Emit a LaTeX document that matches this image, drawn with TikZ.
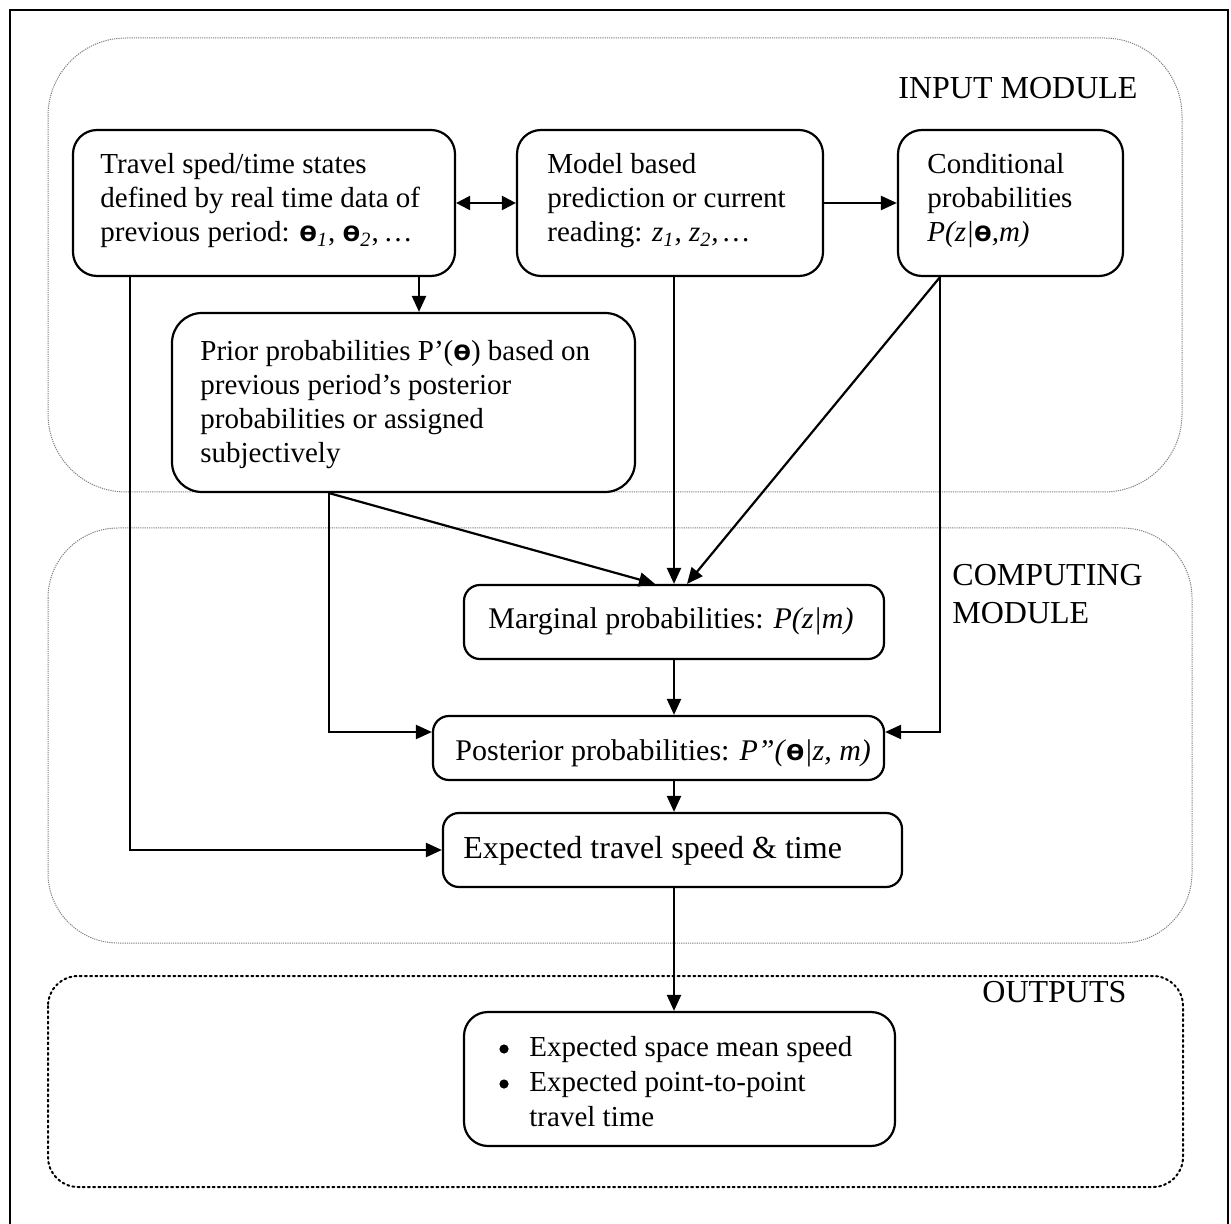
\documentclass[tikz,border=0pt]{standalone}
\usepackage{fontspec}
\setmainfont{Liberation Serif}
\newfontfamily\symfont{Liberation Sans}
\usetikzlibrary{arrows.meta,calc}
\newcommand{\thet}{{\symfont\bfseries ө}}

\begin{document}
\begin{tikzpicture}[x=0.5pt,y=-0.5pt,
  box/.style={draw, line width=1.1pt, rounded corners=12pt, inner sep=0pt},
  txt/.style={anchor=base west, align=flush left, inner sep=0pt,
    font=\fontsize{14.5pt}{17pt}\selectfont},
  mid/.style={anchor=base west, inner sep=0pt, font=\fontsize{15pt}{17pt}\selectfont},
  lbl/.style={anchor=base west, align=flush left, inner sep=0pt,
    font=\fontsize{16pt}{18.5pt}\selectfont},
  bullet/.style={fill=black, circle, inner sep=0pt, minimum size=4.6pt},
  arr/.style={line width=1.1pt, -{Triangle[length=8pt,width=7pt]}},
  darr/.style={line width=1.1pt, {Triangle[length=7pt,width=7pt]}-{Triangle[length=7pt,width=7pt]}},
  module/.style={draw=black!50, line width=0.5pt, dash pattern=on 0.6pt off 0.5pt},
  outmodule/.style={draw=black, line width=1pt, dash pattern=on 1pt off 1.6pt, line cap=round}]

\useasboundingbox (0,0) rectangle (1231,1224);

% outer frame (its lower edge lies just below the page)
\draw[line width=1pt] (10,1240) -- (10,10) -- (1228,10) -- (1228,1240);

% modules
\draw[module, rounded corners=39pt] (48,38) rectangle (1182,492);
\draw[module, rounded corners=35pt] (48,528) rectangle (1192,943);
\draw[outmodule, rounded corners=15pt] (48,976) rectangle (1183,1187);

\node[lbl] (inlbl) at (898,99) {INPUT MODULE};
\node[lbl, text width=100pt] (complbl) at (952,586) {COMPUTING\\MODULE};
\node[lbl] (outlbl) at (982,1002) {OUTPUTS};

% boxes
\node[box, minimum width=191pt, minimum height=73pt] (A) at (264,203) {};
\node[box, minimum width=153pt, minimum height=73pt] (B) at (670,203) {};
\node[box, minimum width=112.5pt, minimum height=73pt] (C) at (1010.5,203) {};
\node[box, rounded corners=15pt, minimum width=231.5pt, minimum height=89.5pt] (D) at (403.5,402.5) {};
\node[box, rounded corners=8pt, minimum width=210pt, minimum height=37pt] (E) at (674,622) {};
\node[box, rounded corners=8pt, minimum width=225.5pt, minimum height=32pt] (F) at (658.5,748) {};
\node[box, rounded corners=8pt, minimum width=229.5pt, minimum height=37pt] (G) at (672.5,850) {};
\node[box, minimum width=215.5pt, minimum height=67pt] (H) at (679.5,1079) {};

% box texts
\node[txt, text width=175pt] (At) at (100,174) {Travel sped/time states\\
  defined by real time data of\\
  previous period: \thet\textit{\textsubscript{1}}, \thet\textit{\textsubscript{2}},\,…};
\node[txt, text width=140pt] (Bt) at (547,174) {Model based\\
  prediction or current\\
  reading: \textit{z\textsubscript{1}, z\textsubscript{2},\,…}};
\node[txt, text width=100pt] (Ct) at (927,174) {Conditional\\
  probabilities\\
  \textit{P(z|}\thet\textit{,m)}};
\node[txt, text width=225pt] (Dt) at (200,361) {Prior probabilities P’(\thet) based on\\
  previous period’s posterior\\
  probabilities or assigned\\
  subjectively};
\node[mid] (Et) at (488,628) {Marginal probabilities: \textit{P(z|m)}};
\node[mid] (Ft) at (455,760) {Posterior probabilities: \textit{P”(}\thet\textit{|z, m)}};
\node[lbl] (Gt) at (463,858) {Expected travel speed \& time};

% output list: bullets and text
\node[bullet] (b1) at (504,1049) {};
\node[bullet] (b2) at (504,1084) {};
\node[txt, text width=185pt, font=\fontsize{14.5pt}{17.5pt}\selectfont] (Ht) at (529,1056)
  {Expected space mean speed\\
  Expected point-to-point\\
  travel time};

% connector guide positions
\coordinate (xAL) at (130,0);
\coordinate (xAD) at (419,0);
\coordinate (xDL) at (329,0);
\coordinate (xDE) at (655,0);
\coordinate (xCE) at (687,0);
\coordinate (xC) at (940,0);
\coordinate (yF) at (0,732);

% connectors
\draw[darr] (A.east) -- (B.west);
\draw[arr] (B.east) -- (C.west);
\draw[arr] (A.south -| xAD) -- (D.north -| xAD);
\draw[arr] (A.south -| xAL) |- (G.west);
\draw[arr] (B.south -| E.north) -- (E.north);
\draw[arr] (C.south -| xC) -- (E.north -| xCE);
\draw[arr] (C.south -| xC) |- (F.east |- yF);
\draw[arr] (D.south -| xDL) -- (E.north -| xDE);
\draw[arr] (D.south -| xDL) |- (F.west |- yF);
\draw[arr] (E.south -| E.north) -- (F.north -| E.north);
\draw[arr] (F.south -| E.north) -- (G.north -| E.north);
\draw[arr] (G.south -| E.north) -- (H.north -| E.north);
\end{tikzpicture}
\end{document}
